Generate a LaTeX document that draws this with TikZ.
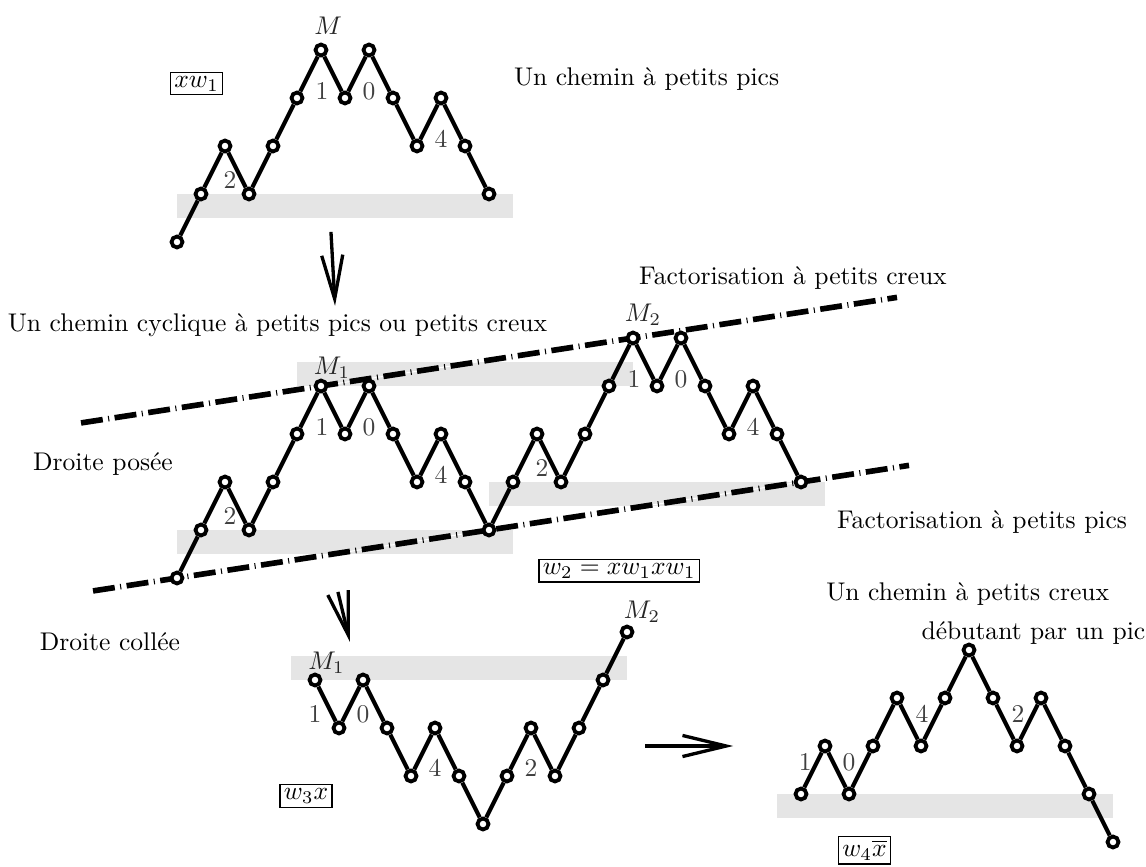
\documentclass[tikz,border=0pt]{standalone}
\usepackage{tikz}
\usetikzlibrary{arrows.meta, calc, backgrounds}

\begin{document}
\begin{tikzpicture}[
    x=0.33cm, y=0.66cm,
    vertex/.style={draw=black, circle, fill=white, line width=1.5pt, minimum size=0.15cm, inner sep=0pt},
    edge/.style={line width=1.6pt},
    steplabel/.style={text=black!75, inner sep=0pt},
    peaklabel/.style={text=black!85, inner sep=0pt},
    band/.style={fill=gray!20},
    cutline/.style={line width=2.2pt, dash pattern=on 8.6pt off 2.15pt on 0.4pt off 2.15pt,
        preaction={draw=white, line width=0.4pt, solid}},
    bigarrow/.style={line width=1.3pt, -{Straight Barb[length=0.6cm, width=0.29cm]}},
    wordbox/.style={draw=black, line width=0.5pt, inner sep=1.5pt},
    txt/.style={inner sep=0pt}
]
\useasboundingbox (0,0) rectangle (47.75,18.042);

% Chemin a petits pics
\foreach \h [count=\i from 0] in {0,1,2,1,2,3,4,3,4,3,2,3,2,1}
    \node[vertex] (t\i) at ({7.375+\i},{13+\h}) {};
\foreach \i [evaluate=\i as \j using int(\i+1)] in {0,...,12}
    \draw[edge] (t\i) -- (t\j);

% Chemin cyclique (deux copies)
\foreach \h [count=\i from 0] in {0,1,2,1,2,3,4,3,4,3,2,3,2,1,2,3,2,3,4,5,4,5,4,3,4,3,2}
    \node[vertex] (m\i) at ({7.375+\i},{6+\h}) {};
\foreach \i [evaluate=\i as \j using int(\i+1)] in {0,...,25}
    \draw[edge] (m\i) -- (m\j);

% Chemin w3 x
\foreach \h [count=\i from 0] in {0,-1,0,-1,-2,-1,-2,-3,-2,-1,-2,-1,0,1}
    \node[vertex] (l\i) at ({13.125+\i},{3.875+\h}) {};
\foreach \i [evaluate=\i as \j using int(\i+1)] in {0,...,12}
    \draw[edge] (l\i) -- (l\j);

% Chemin a petits creux
\foreach \h [count=\i from 0] in {0,1,0,1,2,1,2,3,2,1,2,1,0,-1}
    \node[vertex] (r\i) at ({33.375+\i},{1.5+\h}) {};
\foreach \i [evaluate=\i as \j using int(\i+1)] in {0,...,12}
    \draw[edge] (r\i) -- (r\j);

% Bandes et droites
\begin{scope}[on background layer]
    \fill[band] (7.375,13.5) rectangle (21.375,14);
    \fill[band] (12.375,10) rectangle (26.375,10.5);
    \fill[band] (7.375,6.5) rectangle (21.375,7);
    \fill[band] (20.375,7.5) rectangle (34.375,8);
    \fill[band] (12.125,3.875) rectangle (26.125,4.375);
    \fill[band] (32.375,1) rectangle (46.375,1.5);
    \draw[cutline] ($(m6)!-0.7692!(m19)$) -- ($(m6)!1.8462!(m19)$);
    \draw[cutline] ($(m0)!-0.1346!(m26)$) -- ($(m0)!1.1731!(m26)$);
\end{scope}

% Etiquettes des pas
\node[steplabel] (t2n) at (9.58,14.29) {2};
\node[steplabel] (t6n) at (13.42,16.15) {1};
\node[steplabel] (t8n) at (15.375,16.15) {0};
\node[steplabel] (t11n) at (18.375,15.15) {4};
\node[steplabel] (m2n) at (9.58,7.29) {2};
\node[steplabel] (m6n) at (13.42,9.15) {1};
\node[steplabel] (m8n) at (15.375,9.15) {0};
\node[steplabel] (m11n) at (18.375,8.15) {4};
\node[steplabel] (m15n) at (22.58,8.29) {2};
\node[steplabel] (m19n) at (26.42,10.15) {1};
\node[steplabel] (m21n) at (28.375,10.15) {0};
\node[steplabel] (m24n) at (31.375,9.15) {4};
\node[steplabel] (l0n) at (13.125,3.17) {1};
\node[steplabel] (l2n) at (15.125,3.17) {0};
\node[steplabel] (l5n) at (18.125,2.04) {4};
\node[steplabel] (l9n) at (22.125,2.04) {2};
\node[steplabel] (r0n) at (33.55,2.17) {1};
\node[steplabel] (r2n) at (35.375,2.17) {0};
\node[steplabel] (r5n) at (38.42,3.17) {4};
\node[steplabel] (r9n) at (42.42,3.17) {2};

% Sommets
\node[peaklabel] (tM) at (13.67,17.5) {$M$};
\node[peaklabel] (mM1) at (13.83,10.38) {$M_1$};
\node[peaklabel] (mM2) at (26.79,11.48) {$M_2$};
\node[peaklabel] (lM1) at (13.6,4.24) {$M_1$};
\node[peaklabel] (lM2) at (26.75,5.29) {$M_2$};

% Mots
\node[wordbox] (w1) at (8.19,16.3) {$xw_1$};
\node[wordbox] (w2) at (25.8,6.15) {$w_2 = xw_1xw_1$};
\node[wordbox] (w3) at (12.75,1.46) {$w_3x$};
\node[wordbox, anchor=south] (w4) at (36.02,0.03) {$w_4\overline{x}$};

% Textes
\node[txt] (titre1) at (26.94,16.4) {Un chemin à petits pics};
\node[txt] (titre2) at (11.56,11.27) {Un chemin cyclique à petits pics ou petits creux};
\node[txt] (fcreux) at (33.04,12.25) {Factorisation à petits creux};
\node[txt] (posee) at (4.29,8.38) {Droite posée};
\node[txt] (fpics) at (40.92,7.17) {Factorisation à petits pics};
\node[txt] (collee) at (4.58,4.68) {Droite collée};
\node[txt] (titre3) at (40.32,5.66) {Un chemin à petits creux};
\node[txt] (titre3b) at (43.06,4.85) {débutant par un pic};

% Fleches
\coordinate (a1s) at (13.79,13.21);
\coordinate (a1e) at (13.96,11.67);
\coordinate (a2s) at (14.08,5.71);
\coordinate (a2e) at (14.58,4.67);
\coordinate (a3s) at (26.875,2.5);
\coordinate (a3e) at (30.55,2.5);
\draw[bigarrow] (a1s) -- (a1e);
\draw[bigarrow] (a2s) -- (a2e);
\draw[bigarrow] (a3s) -- (a3e);

\end{tikzpicture}
\end{document}
